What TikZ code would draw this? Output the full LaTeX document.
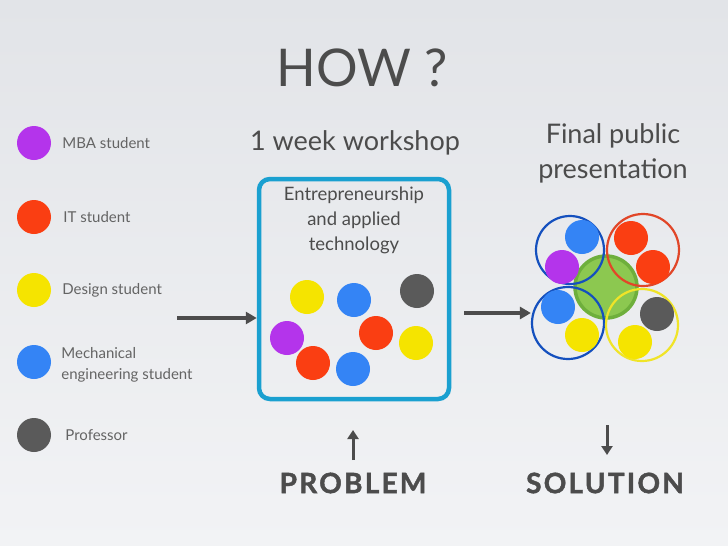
\documentclass[tikz,border=0pt]{standalone}
\usepackage{fontspec}
\setmainfont{Lato}
\usepackage{tikz}
\usetikzlibrary{positioning}
\usetikzlibrary{arrows.meta}
\definecolor{ink}{RGB}{76,76,76}
\definecolor{softink}{RGB}{100,100,100}
\definecolor{mba}{RGB}{180,52,235}
\definecolor{it}{RGB}{250,62,18}
\definecolor{design}{RGB}{245,228,0}
\definecolor{mech}{RGB}{52,132,245}
\definecolor{prof}{RGB}{90,90,90}
\definecolor{frame}{RGB}{26,160,208}
\definecolor{ringblue}{RGB}{20,80,190}
\definecolor{ringred}{RGB}{225,70,40}
\definecolor{ringyellow}{RGB}{240,228,40}
\definecolor{core}{RGB}{140,200,80}
\definecolor{coreline}{RGB}{110,175,60}

\begin{document}
\begin{tikzpicture}[
            x = 1pt, y = -1pt,
            > = {Triangle[length=11pt, width=12pt]}, % arrow head style
            node distance = 8pt,
            text = ink
        ]

        \tikzstyle{dot}=[
            circle,
            inner sep = 0pt,
            minimum size = 34pt
        ]
        \tikzstyle{ring}=[
            circle,
            draw,
            line width = 2.2pt,
            inner sep = 0pt,
            minimum size = 72pt
        ]
        \tikzstyle{legend}=[
            font = \fontsize{15}{21}\selectfont,
            text = softink,
            align = left,
            inner sep = 0pt
        ]
        \tikzstyle{flow}=[
            ->,
            line width = 3.5pt,
            draw = ink
        ]
        \tikzstyle{verdict}=[
            font = \fontsize{28}{28}\selectfont\bfseries\addfontfeature{LetterSpace=8,FakeBold=1.5}
        ]

        % background
        \useasboundingbox (0,0) rectangle (728,546);
        \shade[top color={rgb,255:red,226;green,228;blue,232}, bottom color={rgb,255:red,242;green,243;blue,245}] (0,0) rectangle (728,546);

        % titles
        \node (how) at (362,68) {\fontsize{52}{52}\selectfont HOW ?};
        \node (week) at (355,143) {\fontsize{27}{27}\selectfont 1 week workshop};
        \node[align=center, font=\fontsize{27}{35}\selectfont] (final) at (613,153) {Final public\\presentation};

	% legend
        \node[dot, fill=mba] (Lmba) at (34,143) {};
        \node[dot, fill=it] (Lit) at (34,217) {};
        \node[dot, fill=design] (Ldesign) at (34,290) {};
        \node[dot, fill=mech] (Lmech) at (34,362) {};
        \node[dot, fill=prof] (Lprof) at (34,435) {};

        \node[legend] (Tmba) [right=11pt of Lmba] {MBA student};
        \node[legend] (Tit) [right=12pt of Lit] {IT student};
        \node[legend] (Tdesign) [right=11pt of Ldesign] {Design student};
        \node[legend] (Tmech) [right=10pt of Lmech, yshift=-3pt] {Mechanical\\engineering student};
        \node[legend] (Tprof) [right=14pt of Lprof] {Professor};

        % workshop box
        \node[draw=frame, line width=4.5pt, rounded corners=11pt, minimum width=190pt, minimum height=220pt] (box) at (354,289) {};
        \node[align=center, font=\fontsize{18.5}{25}\selectfont, below=7pt of box.north] (topic) {Entrepreneurship\\and applied\\technology};

        \node[dot, fill=design] (W1) at (307,297) {};
        \node[dot, fill=mech] (W2) at (354,300) {};
        \node[dot, fill=prof] (W3) at (417,291) {};
        \node[dot, fill=mba] (W4) at (287,338) {};
        \node[dot, fill=it] (W5) at (376,333) {};
        \node[dot, fill=design] (W6) at (416,343) {};
        \node[dot, fill=it] (W7) at (313,363) {};
        \node[dot, fill=mech] (W8) at (353,369) {};

        % presentation cluster
        \node[dot, minimum size=62pt, fill=core, draw=coreline, line width=3.5pt] (core) at (606,287) {};
        \node[ring, draw=ringblue, minimum size=68pt] (R1) at (570,250) {};
        \node[ring, draw=ringred] (R2) at (643,250) {};
        \node[ring, draw=ringblue] (R3) at (568,323) {};
        \node[ring, draw=ringyellow] (R4) at (642,325) {};

        \node[dot, fill=mech] (P1) at (582,237) {};
        \node[dot, fill=mba] (P2) at (562,267) {};
        \node[dot, fill=it] (P3) at (631,238) {};
        \node[dot, fill=it] (P4) at (653,267) {};
        \node[dot, fill=mech] (P5) at (558,307) {};
        \node[dot, fill=design] (P6) at (582,335) {};
        \node[dot, fill=prof] (P7) at (657,314) {};
        \node[dot, fill=design] (P8) at (635,342) {};

        % arrows
        \coordinate (a1) at (177,318);
        \coordinate (a2) at (464,313);
        \draw[flow] (a1) -- (box.west |- a1);
        \draw[flow] (a2) -- (R3.west |- a2);

        % problem / solution
        \node[verdict] (problem) at (353,483) {PROBLEM};
        \node[verdict] (solution) at (605,483) {SOLUTION};
        \coordinate (up) at (353,460);
        \coordinate (down) at (607,425);
        \draw[->, line width=3pt, draw=ink, > = {Triangle[length=9pt, width=11pt]}] (up) -- ++(0,-30);
        \draw[->, line width=3pt, draw=ink, > = {Triangle[length=9pt, width=11pt]}] (down) -- ++(0,30);

\end{tikzpicture}
\end{document}
